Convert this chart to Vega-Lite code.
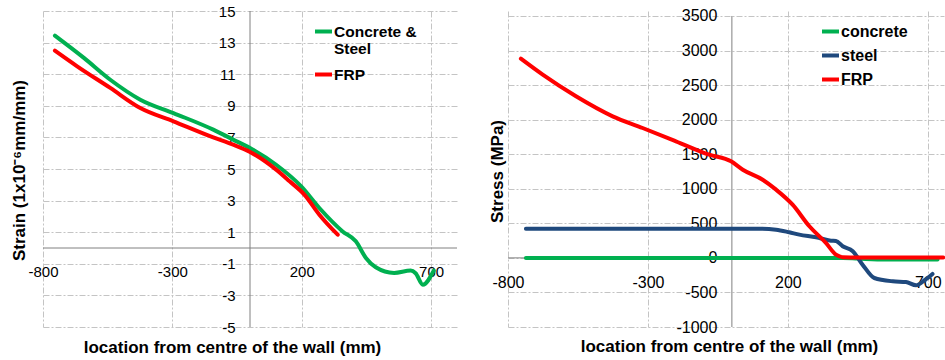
{
  "$schema": "https://vega.github.io/schema/vega-lite/v6.json",
  "autosize": {"type": "pad"},
  "padding": {"left": 9, "top": 4, "right": 2, "bottom": 2},
  "bounds": "flush",
  "spacing": 51,
  "config": {
    "font": "Liberation Sans",
    "view": {"stroke": null},
    "axis": {
      "domain": false, "ticks": false, "grid": true, "tickCount": 30,
      "gridColor": "#c4c4c4", "gridDash": [6, 2, 2, 2], "gridWidth": 1,
      "labelColor": "#000000", "titleColor": "#000000",
      "labelFont": "Liberation Sans", "titleFont": "Liberation Sans",
      "titleFontWeight": "bold", "titleFontSize": 17, "labelFlush": false,
      "labelOverlap": false,
      "labelExpr": "datum.value < 0 ? '-' + abs(datum.value) : '' + datum.value"
    },
    "legend": {
      "orient": "none", "padding": 0, "symbolType": "stroke",
      "symbolStrokeWidth": 4, "symbolSize": 289, "labelFontWeight": "bold",
      "labelColor": "#000000", "labelFont": "Liberation Sans", "labelOffset": 0,
      "title": null
    }
  },
  "datasets": {
    "strain": [
      {"x": -754, "v": 13.44, "series": "Concrete & Steel"},
      {"x": -642, "v": 12.03, "series": "Concrete & Steel"},
      {"x": -540, "v": 10.65, "series": "Concrete & Steel"},
      {"x": -424, "v": 9.39, "series": "Concrete & Steel"},
      {"x": -296, "v": 8.54, "series": "Concrete & Steel"},
      {"x": -142, "v": 7.49, "series": "Concrete & Steel"},
      {"x": -65, "v": 6.86, "series": "Concrete & Steel"},
      {"x": 0, "v": 6.33, "series": "Concrete & Steel"},
      {"x": 101, "v": 5.27, "series": "Concrete & Steel"},
      {"x": 198, "v": 3.9, "series": "Concrete & Steel"},
      {"x": 268, "v": 2.53, "series": "Concrete & Steel"},
      {"x": 358, "v": 1.05, "series": "Concrete & Steel"},
      {"x": 409, "v": 0.42, "series": "Concrete & Steel"},
      {"x": 448, "v": -0.63, "series": "Concrete & Steel"},
      {"x": 486, "v": -1.22, "series": "Concrete & Steel"},
      {"x": 557, "v": -1.58, "series": "Concrete & Steel"},
      {"x": 621, "v": -1.43, "series": "Concrete & Steel"},
      {"x": 640, "v": -1.6, "series": "Concrete & Steel"},
      {"x": 668, "v": -2.32, "series": "Concrete & Steel"},
      {"x": 710, "v": -1.43, "series": "Concrete & Steel"},
      {"x": -754, "v": 12.49, "series": "FRP"},
      {"x": -668, "v": 11.5, "series": "FRP"},
      {"x": -540, "v": 10.13, "series": "FRP"},
      {"x": -424, "v": 8.86, "series": "FRP"},
      {"x": -296, "v": 8.02, "series": "FRP"},
      {"x": -142, "v": 7.0, "series": "FRP"},
      {"x": -65, "v": 6.54, "series": "FRP"},
      {"x": 0, "v": 6.08, "series": "FRP"},
      {"x": 101, "v": 4.96, "series": "FRP"},
      {"x": 153, "v": 4.22, "series": "FRP"},
      {"x": 210, "v": 3.38, "series": "FRP"},
      {"x": 268, "v": 2.11, "series": "FRP"},
      {"x": 339, "v": 0.84, "series": "FRP"}
    ],
    "stress": [
      {"x": -736, "v": 0, "series": "concrete"},
      {"x": 0, "v": 0, "series": "concrete"},
      {"x": 396, "v": 0, "series": "concrete"},
      {"x": 450, "v": -10, "series": "concrete"},
      {"x": 550, "v": -25, "series": "concrete"},
      {"x": 735, "v": -25, "series": "concrete"},
      {"x": -736, "v": 423, "series": "steel"},
      {"x": -300, "v": 423, "series": "steel"},
      {"x": 98, "v": 423, "series": "steel"},
      {"x": 158, "v": 408, "series": "steel"},
      {"x": 205, "v": 370, "series": "steel"},
      {"x": 241, "v": 336, "series": "steel"},
      {"x": 301, "v": 298, "series": "steel"},
      {"x": 354, "v": 249, "series": "steel"},
      {"x": 372, "v": 245, "series": "steel"},
      {"x": 396, "v": 168, "series": "steel"},
      {"x": 432, "v": 95, "series": "steel"},
      {"x": 467, "v": -98, "series": "steel"},
      {"x": 509, "v": -291, "series": "steel"},
      {"x": 575, "v": -339, "series": "steel"},
      {"x": 622, "v": -349, "series": "steel"},
      {"x": 658, "v": -397, "series": "steel"},
      {"x": 690, "v": -320, "series": "steel"},
      {"x": 717, "v": -233, "series": "steel"},
      {"x": -754, "v": 2882, "series": "FRP"},
      {"x": -676, "v": 2651, "series": "FRP"},
      {"x": -557, "v": 2338, "series": "FRP"},
      {"x": -426, "v": 2048, "series": "FRP"},
      {"x": -319, "v": 1879, "series": "FRP"},
      {"x": -200, "v": 1687, "series": "FRP"},
      {"x": -81, "v": 1493, "series": "FRP"},
      {"x": -3, "v": 1397, "series": "FRP"},
      {"x": 39, "v": 1276, "series": "FRP"},
      {"x": 110, "v": 1131, "series": "FRP"},
      {"x": 158, "v": 987, "series": "FRP"},
      {"x": 217, "v": 770, "series": "FRP"},
      {"x": 277, "v": 457, "series": "FRP"},
      {"x": 336, "v": 216, "series": "FRP"},
      {"x": 372, "v": 46, "series": "FRP"},
      {"x": 396, "v": 9, "series": "FRP"},
      {"x": 450, "v": 5, "series": "FRP"},
      {"x": 755, "v": 5, "series": "FRP"}
    ]
  },
  "resolve": {"scale": {"color": "independent", "x": "independent", "y": "independent"}, "legend": {"color": "independent"}},
  "hconcat": [
    {
      "width": 414, "height": 316,
      "layer": [
        {
          "data": {"values": [{}]},
          "mark": {"type": "rule", "color": "#808080", "strokeWidth": 1},
          "encoding": {"x": {"datum": 0, "type": "quantitative"}}
        },
        {
          "data": {"values": [{}]},
          "mark": {"type": "rule", "color": "#808080", "strokeWidth": 1},
          "encoding": {"y": {"datum": 0, "type": "quantitative"}}
        },
        {
          "data": {"name": "strain"},
          "mark": {"type": "line", "strokeWidth": 4, "interpolate": "monotone", "strokeCap": "round"},
          "encoding": {
            "x": {"field": "x", "type": "quantitative",
              "scale": {"domain": [-800, 800], "nice": false, "zero": false},
              "axis": {"values": [-800, -300, 200, 700], "offset": -79, "labelPadding": 16, "labelFontSize": 15,
                "title": "location from centre of the wall (mm)", "titleX": 189, "titleY": 104, "titleBaseline": "alphabetic"}},
            "y": {"field": "v", "type": "quantitative",
              "scale": {"domain": [-5, 15], "nice": false, "zero": false},
              "axis": {"values": [-5, -3, -1, 1, 3, 5, 7, 9, 11, 13, 15], "offset": -207, "labelPadding": 15, "labelFontSize": 15,
                "title": "Strain (1x10⁻⁶mm/mm)", "titleX": -231, "titleY": 159, "titleBaseline": "middle", "titleAngle": -90}},
            "color": {"field": "series", "type": "nominal",
              "scale": {"domain": ["Concrete & Steel", "FRP"], "range": ["#00B050", "#FF0000"]},
              "legend": {"legendX": 270, "legendY": 10, "labelFontSize": 15.5, "rowPadding": 6,
                "labelExpr": "datum.label == 'Concrete & Steel' ? ['Concrete &', 'Steel'] : datum.label"}}
          }
        }
      ]
    },
    {
      "width": 436, "height": 316,
      "layer": [
        {
          "data": {"values": [{}]},
          "mark": {"type": "rule", "color": "#808080", "strokeWidth": 1},
          "encoding": {"x": {"datum": 0, "type": "quantitative"}, "y": {"datum": -1000, "type": "quantitative"}, "y2": {"datum": 3500}}
        },
        {
          "data": {"values": [{}]},
          "mark": {"type": "rule", "color": "#808080", "strokeWidth": 1},
          "encoding": {"y": {"datum": 0, "type": "quantitative"}}
        },
        {
          "data": {"name": "stress"},
          "mark": {"type": "line", "strokeWidth": 4, "interpolate": "monotone", "strokeCap": "round"},
          "encoding": {
            "x": {"field": "x", "type": "quantitative",
              "scale": {"domain": [-800, 758], "nice": false, "zero": false},
              "axis": {"values": [-800, -300, 200, 700], "offset": -69.1, "labelPadding": 17, "labelFontSize": 16,
                "title": "location from centre of the wall (mm)", "titleX": 221, "titleY": 94, "titleBaseline": "alphabetic"}},
            "y": {"field": "v", "type": "quantitative",
              "scale": {"domain": [-1000, 3572], "nice": false, "zero": false},
              "axis": {"values": [-1000, -500, 0, 500, 1000, 1500, 2000, 2500, 3000, 3500], "offset": -223.9, "labelPadding": 15, "labelFontSize": 16,
                "title": "Stress (MPa)", "titleX": -234, "titleY": 160, "titleBaseline": "middle", "titleAngle": -90}},
            "color": {"field": "series", "type": "nominal",
              "scale": {"domain": ["concrete", "steel", "FRP"], "range": ["#00B050", "#1F497D", "#FF0000"]},
              "legend": {"legendX": 312, "legendY": 10, "labelFontSize": 16, "rowPadding": 5}}
          }
        }
      ]
    }
  ]
}
